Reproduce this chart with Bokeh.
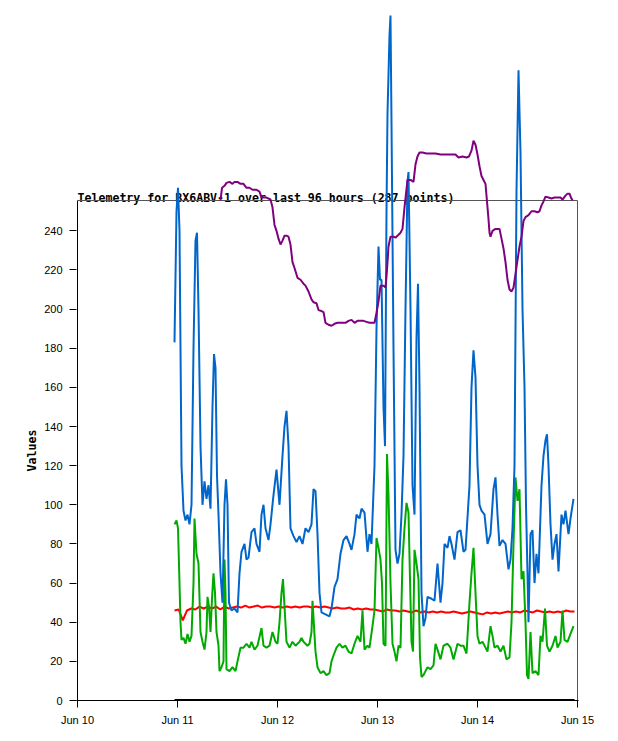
import math
import pandas as pd
from bokeh.plotting import figure
from bokeh.models import Range1d, FixedTicker, DatetimeTickFormatter, Title
from bokeh.core.properties import value
from bokeh.embed import file_html
from bokeh.resources import INLINE

# ---------------- data ----------------
TITLE = "Telemetry for BX6ABV-1 over last 96 hours (287 points)"
Y_LABEL = "Values"
BASE_DATE = "2024-06-10"
DAY_TICK_DATES = ["2024-06-10", "2024-06-11", "2024-06-12",
                  "2024-06-13", "2024-06-14", "2024-06-15"]
Y_TICKS = [0, 20, 40, 60, 80, 100, 120, 140, 160, 180, 200, 220, 240]
Y_MAX = 255.5

# times are in days since BASE_DATE 00:00
BLUE_DAYS = [
    0.97, 0.99, 1.005, 1.02, 1.04, 1.06, 1.08, 1.10, 1.12, 1.14,
    1.16, 1.18, 1.195, 1.21, 1.23, 1.25, 1.27, 1.29, 1.31, 1.33,
    1.35, 1.365, 1.38, 1.395, 1.41, 1.43, 1.45, 1.47, 1.485, 1.50,
    1.515, 1.54, 1.57, 1.60, 1.62, 1.64, 1.67, 1.69, 1.71, 1.74,
    1.77, 1.79, 1.82, 1.84, 1.86, 1.88, 1.91, 1.93, 1.96, 1.99,
    2.02, 2.05, 2.07, 2.09, 2.11, 2.13, 2.16, 2.19, 2.22, 2.25,
    2.28, 2.31, 2.34, 2.36, 2.38, 2.40, 2.42, 2.44, 2.48, 2.52,
    2.54, 2.57, 2.60, 2.63, 2.66, 2.69, 2.72, 2.74, 2.77, 2.79,
    2.82, 2.84, 2.87, 2.90, 2.92, 2.94, 2.97, 2.99, 3.01, 3.025,
    3.04, 3.06, 3.075, 3.09, 3.10, 3.12, 3.13, 3.14, 3.16, 3.18,
    3.20, 3.22, 3.24, 3.26, 3.28, 3.30, 3.31, 3.33, 3.35, 3.37,
    3.39, 3.405, 3.42, 3.44, 3.46, 3.48, 3.50, 3.54, 3.57, 3.60,
    3.63, 3.65, 3.67, 3.70, 3.72, 3.74, 3.77, 3.80, 3.83, 3.86,
    3.88, 3.92, 3.94, 3.96, 3.98, 4.00, 4.02, 4.04, 4.07, 4.10,
    4.13, 4.16, 4.18, 4.20, 4.22, 4.25, 4.28, 4.31, 4.33, 4.35,
    4.37, 4.39, 4.41, 4.43, 4.45, 4.47, 4.485, 4.50, 4.51, 4.53,
    4.55, 4.57, 4.59, 4.61, 4.64, 4.66, 4.68, 4.695, 4.71, 4.73,
    4.75, 4.77, 4.79, 4.81, 4.84, 4.86, 4.88, 4.91, 4.93, 4.96,
]
BLUE_VALUES = [
    183, 250, 262, 240, 120, 97, 92, 95, 90, 100,
    180, 235, 239, 200, 130, 100, 112, 103, 110, 98,
    150, 177, 170, 115, 95, 65, 50, 100, 113, 100,
    50, 46, 47, 45, 65, 76, 80, 72, 73, 86,
    88, 80, 76, 95, 100, 88, 82, 90, 105, 118,
    100, 125, 140, 148, 130, 88, 84, 81, 84, 80,
    88, 86, 90, 108, 107, 85, 55, 45, 44, 43,
    47, 58, 62, 75, 82, 84, 80, 77, 85, 95,
    93, 98, 96, 76, 85, 80, 120, 190, 232, 215,
    215, 150, 130, 250, 300, 340, 350, 295, 180, 77,
    70, 75, 95, 125, 200, 265, 270, 200, 110, 95,
    185, 213, 160, 55, 38, 42, 53, 52, 51, 70,
    50, 60, 80, 78, 84, 80, 72, 86, 87, 76,
    77, 110, 160, 179, 165, 120, 100, 97, 95, 80,
    85, 108, 114, 95, 79, 82, 80, 67, 72, 88,
    120, 260, 322, 280, 200, 160, 100, 65, 40, 85,
    87, 60, 75, 65, 110, 125, 133, 136, 120, 90,
    72, 80, 85, 66, 95, 90, 97, 85, 93, 103,
]

GREEN_DAYS = [
    0.97, 0.99, 1.005, 1.02, 1.03, 1.04, 1.06, 1.08, 1.10, 1.12,
    1.14, 1.16, 1.17, 1.19, 1.21, 1.23, 1.25, 1.27, 1.29, 1.30,
    1.315, 1.33, 1.345, 1.36, 1.375, 1.39, 1.41, 1.42, 1.44, 1.46,
    1.47, 1.48, 1.49, 1.52, 1.55, 1.58, 1.60, 1.63, 1.66, 1.69,
    1.72, 1.74, 1.77, 1.80, 1.84, 1.86, 1.89, 1.92, 1.95, 1.98,
    2.00, 2.02, 2.04, 2.055, 2.07, 2.09, 2.12, 2.15, 2.18, 2.22,
    2.24, 2.26, 2.28, 2.30, 2.32, 2.34, 2.35, 2.365, 2.38, 2.40,
    2.43, 2.46, 2.49, 2.52, 2.54, 2.56, 2.59, 2.62, 2.65, 2.68,
    2.71, 2.74, 2.77, 2.80, 2.83, 2.85, 2.87, 2.90, 2.92, 2.95,
    2.97, 2.99, 3.01, 3.03, 3.045, 3.06, 3.08, 3.095, 3.11, 3.13,
    3.15, 3.17, 3.19, 3.21, 3.23, 3.25, 3.27, 3.29, 3.31, 3.325,
    3.34, 3.355, 3.37, 3.39, 3.41, 3.425, 3.44, 3.46, 3.48, 3.50,
    3.53, 3.56, 3.58, 3.60, 3.63, 3.66, 3.70, 3.73, 3.76, 3.80,
    3.83, 3.86, 3.89, 3.92, 3.94, 3.96, 3.98, 4.00, 4.02, 4.05,
    4.08, 4.10, 4.13, 4.15, 4.17, 4.20, 4.23, 4.26, 4.29, 4.32,
    4.34, 4.36, 4.38, 4.40, 4.42, 4.44, 4.46, 4.48, 4.495, 4.51,
    4.53, 4.55, 4.58, 4.61, 4.63, 4.65, 4.675, 4.695, 4.72, 4.75,
    4.78, 4.80, 4.83, 4.85, 4.87, 4.90, 4.93, 4.96,
]
GREEN_VALUES = [
    90, 92, 88, 60, 40, 31, 32, 29, 34, 30,
    33, 60, 93, 75, 70, 35, 30, 26, 35, 53,
    48, 35, 52, 65, 55, 35, 28, 15, 17, 20,
    72, 55, 16, 15, 17, 15, 20, 27, 27, 29,
    27, 30, 26, 28, 37, 28, 27, 28, 35, 30,
    29, 40, 55, 62, 48, 30, 27, 30, 28, 30,
    32, 30, 29, 28, 29, 35, 51, 38, 25, 17,
    14, 15, 13, 14, 20, 23, 27, 29, 27, 28,
    25, 24, 29, 33, 30, 46, 26, 28, 27, 38,
    46, 83, 78, 72, 60, 29, 28, 126, 105, 60,
    29, 25, 20, 28, 27, 72, 88, 101, 96, 62,
    30, 25, 77, 70, 62, 22, 12, 13, 15, 17,
    16, 18, 29, 26, 21, 28, 29, 27, 21, 29,
    28, 28, 24, 50, 65, 78, 55, 33, 29, 30,
    27, 25, 38, 33, 27, 28, 25, 28, 21, 22,
    40, 80, 114, 102, 108, 62, 66, 40, 13, 11,
    35, 14, 15, 13, 33, 30, 47, 28, 25, 28,
    33, 27, 30, 46, 31, 30, 34, 38,
]

PURPLE_DAYS = [
    1.43, 1.445, 1.47, 1.49, 1.52, 1.55, 1.57, 1.60, 1.63, 1.66,
    1.69, 1.72, 1.75, 1.79, 1.82, 1.84, 1.86, 1.89, 1.93, 1.95,
    1.97, 1.99, 2.01, 2.03, 2.05, 2.07, 2.09, 2.11, 2.13, 2.15,
    2.17, 2.20, 2.23, 2.26, 2.28, 2.31, 2.34, 2.36, 2.39, 2.41,
    2.44, 2.46, 2.48, 2.51, 2.54, 2.57, 2.60, 2.64, 2.68, 2.71,
    2.74, 2.77, 2.80, 2.83, 2.86, 2.89, 2.92, 2.95, 2.97, 2.99,
    3.01, 3.03, 3.06, 3.08, 3.095, 3.11, 3.13, 3.16, 3.18, 3.21,
    3.23, 3.25, 3.27, 3.285, 3.30, 3.33, 3.36, 3.38, 3.40, 3.42,
    3.45, 3.49, 3.53, 3.58, 3.63, 3.68, 3.73, 3.78, 3.81, 3.85,
    3.89, 3.915, 3.94, 3.96, 3.98, 4.00, 4.02, 4.04, 4.06, 4.08,
    4.095, 4.11, 4.12, 4.13, 4.15, 4.18, 4.22, 4.24, 4.26, 4.28,
    4.30, 4.32, 4.34, 4.36, 4.38, 4.40, 4.42, 4.44, 4.46, 4.48,
    4.51, 4.54, 4.57, 4.60, 4.62, 4.64, 4.66, 4.68, 4.71, 4.74,
    4.77, 4.80, 4.83, 4.85, 4.88, 4.90, 4.92, 4.935, 4.95,
]
PURPLE_VALUES = [
    255.5, 262, 263, 264.5, 265, 264, 265, 265, 264, 264,
    262, 262, 261, 261, 260, 257, 257, 257, 256, 252,
    243, 240, 236, 233, 235, 237.5, 237.5, 237, 233, 224,
    221, 216, 215, 213, 212, 209, 205, 203.5, 203, 199.5,
    199, 198.5, 193, 192, 191.5, 192.5, 193, 193, 193, 194,
    194.5, 193, 194, 194, 194, 193.5, 193, 193, 193, 198,
    204, 212, 212, 211, 220, 232, 237, 237, 236.5, 238,
    239, 241, 252, 259, 266, 266, 265, 274, 278, 280,
    280, 279.5, 279.5, 279.5, 279, 279, 279, 279, 277.5, 278,
    277.5, 278, 281, 286, 284, 279, 273, 268, 266, 264,
    255, 246, 239, 237, 240, 241, 241, 236, 231, 224,
    215, 210, 209, 211, 218, 225, 232, 237, 245, 247,
    248, 250, 250, 249.5, 250, 253, 255, 257.5, 257, 256.5,
    257, 257, 257, 256, 258, 259, 259, 257, 255.5,
]

# red series, one reading per hour starting at RED_START_DAY
RED_START_DAY = 0.97
RED_VALUES = [
    46, 46.5, 41, 46, 47, 46.5, 48, 47, 48, 47,
    48, 46.5, 48, 47, 47.5, 48, 47.5, 48.5, 47.5, 48,
    48.5, 47.5, 48, 48, 47.5, 48, 47.5, 48, 47.5, 48,
    47.5, 48, 48, 47.5, 48, 47.5, 48, 47.5, 47, 47.5,
    47, 47, 47.5, 46.5, 47, 46.5, 47, 46.5, 46.5, 46,
    45.5, 46.5, 46, 46, 45.5, 46, 45.5, 45, 46, 45,
    45.5, 45, 45.5, 45, 45.5, 45, 45, 45.5, 45, 44.5,
    45, 45.5, 45, 44.5, 44, 45, 44.5, 45, 44.5, 45,
    45.5, 45, 45.5, 45, 46, 45.5, 45, 46, 45.5, 45,
    45.5, 45, 45.5, 45, 46, 45.5, 45.5,
]

ZERO_DAYS = [0.97, 4.97]
ZERO_VALUES = [0, 0]

# ---------------- helpers ----------------
DAY_MS = 86400000
BASE_MS = pd.Timestamp(BASE_DATE).value // 10**6
TICK_MS = [pd.Timestamp(d).value // 10**6 for d in DAY_TICK_DATES]


def to_ms(days):
    return [BASE_MS + d * DAY_MS for d in days]


RED_DAYS = [RED_START_DAY + i / 24 for i in range(len(RED_VALUES))]

X0 = TICK_MS[0]
X1 = TICK_MS[-1]
PX_PER_DAY = 100.0
PX_PER_UNIT = 500.0 / Y_MAX
ONE_PX_MS = DAY_MS / PX_PER_DAY
Y_TOP = Y_MAX + 192.0 / PX_PER_UNIT

MONO = "DejaVu Sans Mono"
SANS = "Liberation Sans"

p = figure(
    x_axis_type="datetime",
    frame_width=502, frame_height=692,
    min_border_left=76, min_border_right=30,
    min_border_top=8, min_border_bottom=33,
    x_range=Range1d(X0 - ONE_PX_MS, X1 + ONE_PX_MS),
    y_range=Range1d(0, Y_TOP),
    output_backend="svg", toolbar_location=None, title=None,
)
p.outline_line_color = None
p.xgrid.visible = False
p.ygrid.visible = False
p.background_fill_color = "white"
p.border_fill_color = "white"

# x axis
p.xaxis.ticker = FixedTicker(ticks=TICK_MS, minor_ticks=[])
p.xaxis.formatter = DatetimeTickFormatter(days="%b %d", hours="%b %d",
                                          months="%b %d", years="%b %d")
p.xaxis.axis_line_color = "black"
p.xaxis.major_tick_line_color = "black"
p.xaxis.major_tick_out = 7
p.xaxis.major_tick_in = 0
p.xaxis.minor_tick_line_color = None
p.xaxis.major_label_standoff = 6
p.xaxis.major_label_text_font = SANS
p.xaxis.major_label_text_font_size = "11px"
p.xaxis.major_label_text_color = "black"

# y axis
p.yaxis.ticker = FixedTicker(ticks=Y_TICKS, minor_ticks=[])
p.yaxis.axis_line_color = None
p.yaxis.major_tick_line_color = "black"
p.yaxis.major_tick_out = 7
p.yaxis.major_tick_in = 0
p.yaxis.minor_tick_line_color = None
p.yaxis.major_label_standoff = 7
p.yaxis.major_label_text_font = SANS
p.yaxis.major_label_text_font_size = "11px"
p.yaxis.major_label_text_color = "black"

# title (drawn beneath the data lines)
p.text(x=[X0], y=[Y_MAX + 3.0 / PX_PER_UNIT], text=[TITLE],
       text_font=value(MONO), text_font_style="bold", text_font_size="11.6px",
       text_color="black", text_align="left", text_baseline="alphabetic")

# plot frame
p.line(x=[X0, X0], y=[0, Y_MAX], line_color="black", line_width=1)
p.line(x=[X0, X1, X1], y=[Y_MAX, Y_MAX, 0], line_color="#555555", line_width=1)

# series
p.line(x=to_ms(ZERO_DAYS), y=ZERO_VALUES, line_color="black", line_width=3)
p.line(x=to_ms(RED_DAYS), y=RED_VALUES, line_color="#ff0000", line_width=2)
p.line(x=to_ms(GREEN_DAYS), y=GREEN_VALUES, line_color="#00aa00", line_width=2)
p.line(x=to_ms(BLUE_DAYS), y=BLUE_VALUES, line_color="#0066cc", line_width=2)
p.line(x=to_ms(PURPLE_DAYS), y=PURPLE_VALUES, line_color="#800080", line_width=2)

# y axis label, centred on the visible plot box
p.add_layout(Title(text=Y_LABEL, align="left", offset=229, standoff=6,
                   text_font=MONO, text_font_style="bold",
                   text_font_size="11.6px", text_color="black"), "left")

open("out.html", "w").write(file_html(p, INLINE))
